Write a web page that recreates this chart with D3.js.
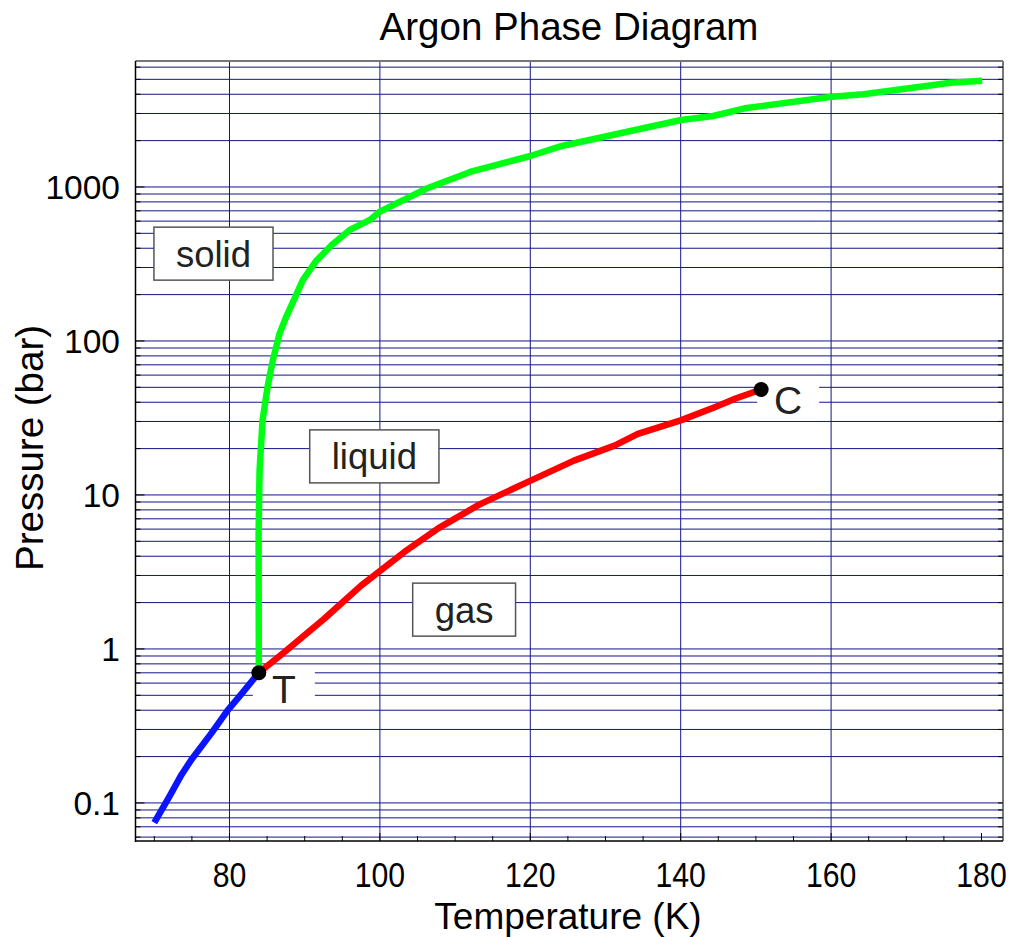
<!DOCTYPE html>
<html>
<head>
<meta charset="utf-8">
<script src="https://cdn.jsdelivr.net/npm/d3@7"></script>
<style>
  html, body { margin: 0; padding: 0; background: #ffffff; }
  svg { display: block; font-family: "Liberation Sans", Arial, Helvetica, sans-serif; }
</style>
</head>
<body>
<svg id="chart" width="1014" height="937"></svg>
<script>
// Sublimation curve (solid-gas), temperature in K and pressure in bar
const sublimationT = [70.0, 72.0, 73.6, 74.9, 77.6, 79.8, 81.3, 83.9];
const sublimationP = [0.0744, 0.110, 0.152, 0.190, 0.284, 0.402, 0.490, 0.70];

// Vaporization curve (liquid-gas), triple point to critical point
const vaporT = [83.9, 87.2, 92.6, 97.5, 103.3, 107.8, 113.2, 119.9, 125.8, 131.2, 134.3, 140.0, 144.6, 147.3, 150.7];
const vaporP = [0.70, 0.945, 1.57, 2.58, 4.28, 6.09, 8.65, 12.3, 16.7, 20.9, 24.9, 30.5, 37.3, 42.3, 48.4];

// Melting curve (solid-liquid)
const meltingT = [83.9, 83.87, 84.0, 84.4, 85.07, 85.77, 86.67, 87.56, 89.77, 91.5, 93.6, 96.0, 98.67, 100.0, 106.3, 112.1, 120.0, 124.2, 140.05, 144.3, 148.5, 160.1, 164.3, 175.9, 180.1];
const meltingP = [0.70, 5.66, 14.5, 30.7, 50.5, 75.3, 112, 144, 249, 330, 420, 526, 611, 692, 981, 1257, 1589, 1846, 2722, 2890, 3243, 3855, 3999, 4752, 4898];

// Special points
const pointNames = ["T", "C"];
const pointT = [83.9, 150.7];
const pointP = [0.70, 48.4];

// Phase region labels, anchored in (K, bar)
const phaseNames = ["solid", "liquid", "gas"];
const phaseT = [77.87, 99.26, 111.2];
const phaseP = [369, 17.8, 1.80];

// Axis ticks
const xTickLabels = [80, 100, 120, 140, 160, 180];
const yTickLabels = [0.1, 1, 10, 100, 1000];

const svg = d3.select("#chart");
const plot = { left: 135.5, right: 1003, top: 61, bottom: 841 };

const x = d3.scaleLinear().domain([67.5, 182.86]).range([plot.left, plot.right]);
const y = d3.scaleLog().domain([0.0566, 6577]).range([plot.bottom, plot.top]);

// Horizontal grid: every 1..9 x 10^n
const yGrid = [];
for (let e = -2; e <= 3; e++) {
  for (let m = 1; m <= 9; m++) {
    const v = m * Math.pow(10, e);
    if (v >= y.domain()[0] && v <= y.domain()[1]) yGrid.push(v);
  }
}
const grid = svg.append("g").attr("stroke", "#14148a").attr("stroke-width", 1);
grid.selectAll("line.h").data(yGrid).join("line")
  .attr("class", "h")
  .attr("x1", plot.left).attr("x2", plot.right)
  .attr("y1", d => y(d)).attr("y2", d => y(d));

// Vertical grid every 20 K
const xGrid = [80, 100, 120, 140, 160];
grid.selectAll("line.v").data(xGrid).join("line")
  .attr("class", "v")
  .attr("y1", plot.top).attr("y2", plot.bottom)
  .attr("x1", d => x(d)).attr("x2", d => x(d));

// Frame: grey top/right, black left/bottom
svg.append("line").attr("x1", plot.left).attr("x2", plot.right).attr("y1", plot.top).attr("y2", plot.top)
  .attr("stroke", "#777").attr("stroke-width", 2);
svg.append("line").attr("x1", plot.right).attr("x2", plot.right).attr("y1", plot.top).attr("y2", plot.bottom)
  .attr("stroke", "#777").attr("stroke-width", 2);

// Inward ticks on the y axes
const ticks = svg.append("g").attr("stroke", "#000").attr("stroke-width", 1);
ticks.selectAll("line.yl").data(yGrid).join("line")
  .attr("x1", plot.left).attr("x2", d => plot.left + (yTickLabels.includes(d) ? 9 : 5))
  .attr("y1", d => y(d)).attr("y2", d => y(d));
ticks.selectAll("line.yr").data(yGrid).join("line")
  .attr("x1", plot.right).attr("x2", d => plot.right - 5)
  .attr("y1", d => y(d)).attr("y2", d => y(d));

// Inward ticks on the x axis, every 5 K
const xMinor = d3.range(70, 181, 5);
ticks.selectAll("line.xb").data(xMinor).join("line")
  .attr("y1", plot.bottom).attr("y2", d => plot.bottom - (d % 20 === 0 ? 8 : 5))
  .attr("x1", d => x(d)).attr("x2", d => x(d));

svg.append("line").attr("x1", plot.left).attr("x2", plot.left).attr("y1", plot.top).attr("y2", plot.bottom + 1)
  .attr("stroke", "#000").attr("stroke-width", 1.5);
svg.append("line").attr("x1", plot.left).attr("x2", plot.right).attr("y1", plot.bottom).attr("y2", plot.bottom)
  .attr("stroke", "#000").attr("stroke-width", 1.5);

// Tick labels (x labels are set in a narrow face)
svg.append("g").selectAll("text").data(xTickLabels).join("text")
  .attr("transform", d => `translate(${x(d)},887) scale(0.84,1)`)
  .attr("text-anchor", "middle")
  .attr("font-size", 36)
  .text(d => d);

svg.append("g").selectAll("text").data(yTickLabels).join("text")
  .attr("x", 120).attr("y", d => y(d) + 12)
  .attr("text-anchor", "end")
  .attr("font-size", 33.5)
  .text(d => d);

// Titles
svg.append("text").attr("x", 569).attr("y", 40).attr("text-anchor", "middle")
  .attr("font-size", 38.5).text("Argon Phase Diagram");
svg.append("text").attr("x", 568).attr("y", 929).attr("text-anchor", "middle")
  .attr("font-size", 37).text("Temperature (K)");
svg.append("text").attr("transform", "translate(43,448) rotate(-90)").attr("text-anchor", "middle")
  .attr("font-size", 38.5).text("Pressure (bar)");

// Phase region boxes
const boxes = svg.append("g");
phaseNames.forEach((name, i) => {
  const cx = x(phaseT[i]), cy = y(phaseP[i]);
  const t = boxes.append("text").attr("x", cx).attr("y", cy + 13)
    .attr("text-anchor", "middle").attr("font-size", 36.5).attr("fill", "#222").text(name);
  const w = t.node().getComputedTextLength() + 44;
  boxes.insert("rect", "text")
    .attr("x", cx - w / 2).attr("y", cy - 26.5).attr("width", w).attr("height", 53)
    .attr("fill", "#fff").attr("stroke", "#555").attr("stroke-width", 1.5);
});

// White backgrounds behind the point letters
const letterOffsets = [[25, 16], [27, 11]];
const letterBg = svg.append("g");
pointNames.forEach((n, i) => {
  const cx = x(pointT[i]) + letterOffsets[i][0], cy = y(pointP[i]) + letterOffsets[i][1];
  letterBg.append("rect").attr("x", cx - 31).attr("y", cy - 20).attr("width", 62).attr("height", 40)
    .attr("fill", "#fff");
});

// Phase boundary curves
const line = d3.line().x(d => x(d[0])).y(d => y(d[1]));
const curves = [
  { T: sublimationT, P: sublimationP, color: "#0a14ff" },
  { T: vaporT, P: vaporP, color: "#ff0000" },
  { T: meltingT, P: meltingP, color: "#00ff14" }
];
svg.append("g").selectAll("path").data(curves).join("path")
  .attr("d", c => line(c.T.map((t, i) => [t, c.P[i]])))
  .attr("fill", "none")
  .attr("stroke", c => c.color)
  .attr("stroke-width", 6.5)
  .attr("stroke-linejoin", "round");

// Triple and critical points
svg.append("g").selectAll("circle").data(pointNames).join("circle")
  .attr("cx", (d, i) => x(pointT[i])).attr("cy", (d, i) => y(pointP[i]))
  .attr("r", 7.5).attr("fill", "#000");

svg.append("g").selectAll("text").data(pointNames).join("text")
  .attr("x", (d, i) => x(pointT[i]) + letterOffsets[i][0])
  .attr("y", (d, i) => y(pointP[i]) + letterOffsets[i][1] + 14)
  .attr("text-anchor", "middle").attr("font-size", 39).attr("fill", "#222")
  .text(d => d);
</script>
</body>
</html>
